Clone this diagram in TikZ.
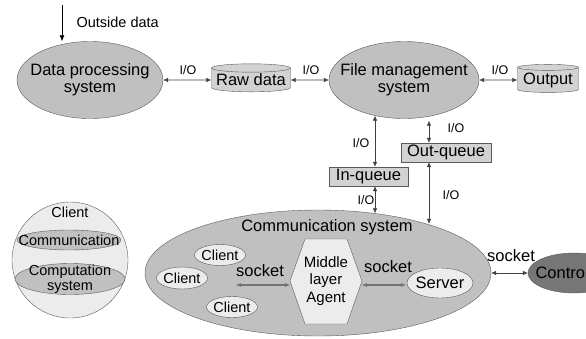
\documentclass[tikz,border=0pt]{standalone}
\usepackage{fontspec}
\setmainfont{Liberation Sans}
\usetikzlibrary{shapes.geometric,arrows.meta,calc}
\definecolor{midgray}{RGB}{192,192,192}
\definecolor{lightgray}{RGB}{236,236,236}
\definecolor{boxgray}{RGB}{210,210,210}
\definecolor{darkgray}{RGB}{118,118,118}
\definecolor{edgegray}{RGB}{90,90,90}
\begin{document}
\begin{tikzpicture}[x=1pt,y=-1pt,
  bigtxt/.style={font=\fontsize{16.5}{17}\selectfont},
  medtxt/.style={font=\fontsize{14.5}{16}\selectfont},
  iotxt/.style={font=\fontsize{12.5}{14}\selectfont},
  gell/.style={ellipse, draw=edgegray, fill=midgray, inner sep=0pt},
  lell/.style={ellipse, draw=edgegray, fill=lightgray, inner sep=0pt},
  qbox/.style={rectangle, draw=edgegray, fill=boxgray, inner sep=0pt, bigtxt},
  cyl/.style={cylinder, shape border rotate=90, aspect=0.12, draw=edgegray, fill=boxgray, inner sep=0pt, bigtxt},
  io/.style={{Latex[length=5pt,width=4.5pt]}-{Latex[length=5pt,width=4.5pt]}, draw=black!75, line width=0.6pt},
  sock/.style={{Latex[open,length=6pt,width=4pt]}-{Latex[open,length=6pt,width=4pt]}, draw=black!55, line width=2.2pt},
]
\useasboundingbox (0,0) rectangle (586,338);

% top row
\coordinate (src) at (62,5);
\node[gell, minimum width=146pt, minimum height=77pt] (dp) at (90,80) {};
\node[bigtxt, align=center] (dpt) at (dp) {Data processing\\system};
\node[cyl, minimum width=79pt, minimum height=28pt] (raw) at (251,80) {Raw data};
\node[gell, minimum width=150pt, minimum height=77pt] (fms) at (404,80) {};
\node[bigtxt, align=center] (fmst) at (fms) {File management\\system};
\node[cyl, minimum width=61pt, minimum height=28pt] (out) at (548,80) {Output};

\draw[-{Latex[length=6pt,width=5pt]}, line width=0.7pt] (src) -- (src |- dp.north);
\node[medtxt, anchor=west] (odl) at (73,22) {Outside data};

\draw[io] (dp.east) -- (raw.west);
\draw[io] (raw.east) -- (fms.west);
\draw[io] (fms.east) -- (out.west);
\node[iotxt] (l1) at (188,70) {I/O};
\node[iotxt] (l2) at (311,70) {I/O};
\node[iotxt] (l3) at (500,70) {I/O};

% queues
\node[qbox, minimum width=79pt, minimum height=19pt] (iq) at (368.5,176.5) {In-queue};
\node[qbox, minimum width=90pt, minimum height=19pt] (oq) at (446,152.5) {Out-queue};

% communication system
\node[gell, minimum width=346pt, minimum height=126pt] (comm) at (318,273) {};
\node[bigtxt] (commt) at (327,227) {Communication system};

\coordinate (iqx) at (375,0);
\coordinate (oqx) at (429,0);
\draw[io] (iq.north -| iqx) -- ($(iqx |- fms.south)+(0,-3)$);
\draw[io] (oq.north -| oqx) -- ($(oqx |- fms.south)+(0,2)$);
\draw[io] (iq.south -| iqx) -- ($(iqx |- comm.north)+(0,3.5)$);
\draw[io] (oq.south -| oqx) -- ($(oqx |- comm.north)+(0,14)$);
\node[iotxt] (l4) at (361,143) {I/O};
\node[iotxt] (l5) at (456,128) {I/O};
\node[iotxt] (l6) at (366,200) {I/O};
\node[iotxt] (l7) at (451,195) {I/O};

% inside communication system
\node[lell, minimum width=51pt, minimum height=21pt] (c1) at (220,255) {};
\node[medtxt] (c1t) at (c1) {Client};
\node[lell, minimum width=51pt, minimum height=22pt] (c2) at (182,278) {};
\node[medtxt] (c2t) at (c2) {Client};
\node[lell, minimum width=51pt, minimum height=21pt] (c3) at (232,307) {};
\node[medtxt] (c3t) at (c3) {Client};

\coordinate (agent) at (326,281);
\draw[draw=edgegray, fill=lightgray]
  ($(agent)+(-21,-42)$) -- ($(agent)+(21,-42)$) -- ($(agent)+(36,0)$) --
  ($(agent)+(21,43)$) -- ($(agent)+(-21,43)$) -- ($(agent)+(-36,0)$) -- cycle;
\node[align=center, font=\fontsize{15}{17.5}\selectfont] (agentt) at (agent) {Middle\\layer\\Agent};

\node[lell, minimum width=66pt, minimum height=30pt] (srv) at (440,283) {};
\node[bigtxt] (srvt) at (srv) {Server};

\coordinate (sockl) at (235,285);
\draw[sock] (sockl) -- ($(agent)+(-35,4)$);
\draw[sock] ($(agent)+(35,4)$) -- (srv.west |- 0,285);
\node[bigtxt] (s1) at (260,271) {socket};
\node[bigtxt] (s2) at (388,267) {socket};

% control
\node[ellipse, draw=edgegray, fill=darkgray, minimum width=92pt, minimum height=40pt, inner sep=0pt] (ctl) at (574,273) {};
\node[bigtxt, anchor=west] (ctlt) at (532,273) {Control};
\draw[io] (comm.east) -- (ctl.west);
\node[bigtxt] (s3) at (511,256) {socket};

% client legend
\node[circle, draw=edgegray, fill=lightgray, minimum size=116pt, inner sep=0pt] (cl) at (70,260) {};
\node[medtxt] (clt) at (70,212) {Client};
\node[gell, minimum width=104pt, minimum height=20pt] (clc) at (69,240) {};
\node[medtxt] (clct) at (clc) {Communication};
\node[gell, minimum width=110pt, minimum height=31pt] (clp) at (70,279) {};
\node[align=center, font=\fontsize{14.5}{15.5}\selectfont] (clpt) at (clp) {Computation\\system};
\end{tikzpicture}
\end{document}
